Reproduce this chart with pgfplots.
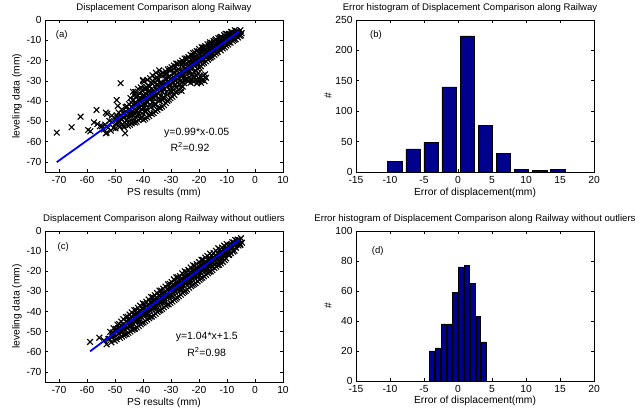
\documentclass[border=0pt]{standalone}
\usepackage{fontspec}
\setmainfont{Liberation Sans}
\usepackage{pgfplots}
\pgfplotsset{compat=1.18}
\definecolor{barblue}{RGB}{0,0,143}
\pgfplotsset{
 base/.style={
  scale only axis, width=238bp, clip mode=individual,
  axis line style={black, line width=0.7bp},
  tick align=inside, major tick length=3bp,
  every tick/.style={black, line width=0.6bp},
  tick label style={font=\fontsize{10.3bp}{12bp}\selectfont},
  xticklabel style={yshift=-1bp},
  label style={font=\fontsize{10.3bp}{12bp}\selectfont},
  title style={font=\fontsize{9.6bp}{11bp}\selectfont, at={(axis description cs:0.5,1)}, anchor=center, yshift=6bp},
  xlabel style={at={(axis description cs:0.5,-0.135)}, anchor=center},
  ylabel style={at={(axis description cs:-0.1176,0.5)}, anchor=center},
 },
 sc/.style={only marks, mark=x, mark size=4bp, line width=1.1bp, black},
 fit/.style={blue, line width=1.8bp},
 hb/.style={ybar, fill=barblue, draw=black, line width=0.6bp},
}
\begin{document}
\begin{tikzpicture}
\useasboundingbox (0,0) rectangle (642bp,413bp);
% (a)
\begin{axis}[base, at={(45bp,241bp)}, anchor=south west, height=152bp,
 xmin=-75, xmax=10, ymin=-75, ymax=0,
 xtick={-70,-60,...,10}, xticklabels={-70,-60,-50,-40,-30,-20,-10,0,10},
 ytick={-70,-60,...,0}, yticklabels={-70,-60,-50,-40,-30,-20,-10,0},
 title={Displacement Comparison along Railway},
 xlabel={PS results (mm)}, ylabel={leveling data (mm)}]
\addplot[sc] coordinates {
(-4.8,-6.5)(-5.2,-5.0)(-5.5,-7.8)(-5.8,-6.1)(-6.1,-8.6)(-6.4,-5.9)(-6.7,-7.4)(-6.9,-9.5)(-5.0,-7.6)(-6.3,-7.0)
(-7.2,-5.0)(-7.4,-9.8)(-7.7,-7.1)(-7.9,-10.4)(-8.2,-6.0)(-8.4,-8.7)(-8.7,-11.2)(-8.9,-7.3)(-9.1,-9.9)(-9.4,-6.8)(-9.6,-12.1)(-9.8,-8.5)(-7.5,-8.3)(-8.5,-5.9)(-9.3,-11.0)
(-10.1,-7.0)(-10.3,-12.6)(-10.6,-9.4)(-10.8,-13.5)(-11.0,-7.5)(-11.3,-11.2)(-11.5,-14.0)(-11.8,-8.6)(-12.0,-10.5)(-12.2,-15.0)(-12.5,-8.9)(-12.7,-12.8)(-12.9,-11.0)(-10.9,-10.2)(-11.7,-12.9)(-12.4,-9.8)(-10.4,-8.3)
(-13.1,-9.0)(-13.3,-15.8)(-13.6,-12.0)(-13.8,-16.5)(-14.0,-9.5)(-14.3,-13.9)(-14.5,-17.2)(-14.8,-10.4)(-15.0,-14.6)(-15.2,-18.0)(-15.5,-11.2)(-15.7,-15.9)(-15.9,-13.0)(-13.9,-12.7)(-14.6,-15.5)(-15.3,-12.2)(-13.4,-11.0)(-15.8,-18.5)
(-16.1,-11.0)(-16.3,-18.9)(-16.6,-14.5)(-16.8,-19.6)(-17.0,-12.0)(-17.3,-16.8)(-17.5,-20.4)(-17.8,-12.9)(-18.0,-17.5)(-18.2,-21.1)(-18.5,-13.6)(-18.7,-18.9)(-18.9,-15.6)(-16.9,-15.8)(-17.6,-18.3)(-18.3,-15.2)(-16.4,-13.2)(-18.8,-21.6)
(-17.5,-28.5)(-18.0,-30.2)(-18.4,-27.3)(-18.9,-29.6)(-19.3,-31.0)(-19.6,-27.9)(-17.8,-26.8)
(-19.1,-13.4)(-19.3,-22.8)(-19.6,-17.0)(-19.8,-23.5)(-20.0,-14.2)(-20.3,-19.8)(-20.5,-24.0)(-20.8,-15.3)(-21.0,-21.3)(-21.2,-25.1)(-21.5,-16.0)(-21.7,-22.0)(-21.9,-18.8)(-19.9,-18.5)(-20.6,-21.9)(-21.3,-18.2)(-19.4,-15.7)(-21.8,-25.6)(-20.2,-26.1)
(-20.0,-28.9)(-20.4,-30.6)(-20.9,-27.6)(-21.4,-29.8)(-21.8,-28.1)(-20.7,-31.3)(-22.0,-30.4)
(-22.1,-16.3)(-22.3,-26.8)(-22.6,-20.0)(-22.8,-27.4)(-23.0,-17.2)(-23.3,-23.1)(-23.5,-28.2)(-23.8,-18.3)(-24.0,-24.6)(-24.2,-29.0)(-24.5,-19.0)(-24.7,-25.5)(-24.9,-21.9)(-22.9,-21.6)(-23.6,-25.8)(-24.3,-21.4)(-22.4,-18.9)(-24.8,-29.6)(-23.2,-29.4)
(-22.5,-29.5)(-23.0,-31.0)(-23.8,-30.2)
(-25.1,-19.0)(-25.3,-31.2)(-25.6,-23.2)(-25.8,-32.9)(-26.0,-20.0)(-26.3,-27.0)(-26.5,-33.5)(-26.8,-21.0)(-27.0,-28.6)(-27.2,-34.6)(-27.5,-21.6)(-27.7,-30.9)(-27.9,-25.1)(-25.9,-25.6)(-26.6,-30.0)(-27.3,-24.4)(-25.4,-28.4)(-27.8,-35.2)(-26.2,-35.0)(-25.7,-21.3)(-27.1,-31.8)
(-28.1,-21.5)(-28.3,-35.6)(-28.6,-26.1)(-28.8,-37.0)(-29.0,-22.4)(-29.3,-30.5)(-29.5,-37.9)(-29.8,-23.3)(-30.0,-32.0)(-30.2,-38.6)(-30.5,-24.0)(-30.7,-34.2)(-30.9,-28.0)(-28.9,-28.5)(-29.6,-34.0)(-30.3,-27.9)(-28.4,-31.9)(-30.8,-39.3)(-29.2,-26.0)(-28.7,-23.6)(-30.1,-35.8)
(-31.1,-24.4)(-31.3,-39.9)(-31.6,-29.1)(-31.8,-41.0)(-32.0,-25.3)(-32.3,-34.0)(-32.5,-42.0)(-32.8,-26.1)(-33.0,-35.5)(-33.2,-42.8)(-33.5,-27.0)(-33.7,-37.6)(-33.9,-31.0)(-31.9,-31.5)(-32.6,-38.0)(-33.3,-31.2)(-31.4,-35.3)(-33.8,-43.4)(-32.2,-29.0)(-31.7,-26.4)(-33.1,-39.6)(-32.9,-33.0)
(-34.1,-27.3)(-34.3,-43.2)(-34.6,-32.1)(-34.8,-44.3)(-35.0,-28.3)(-35.3,-37.2)(-35.5,-45.0)(-35.8,-29.0)(-36.0,-38.5)(-36.2,-45.9)(-36.5,-30.2)(-36.7,-40.6)(-36.9,-34.0)(-34.9,-34.5)(-35.6,-41.2)(-36.3,-34.4)(-34.4,-38.7)(-36.8,-46.4)(-35.2,-32.0)(-34.7,-29.5)(-36.1,-42.5)(-35.9,-36.0)
(-35.4,-26.0)(-36.6,-27.3)(-34.2,-24.8)
(-37.1,-31.0)(-37.3,-46.0)(-37.6,-35.2)(-37.8,-47.4)(-38.0,-32.3)(-38.3,-40.4)(-38.5,-48.0)(-38.8,-33.1)(-39.0,-41.6)(-39.2,-48.7)(-39.5,-34.0)(-39.7,-43.5)(-39.9,-37.2)(-37.9,-37.7)(-38.6,-44.0)(-39.3,-37.6)(-37.4,-41.8)(-39.8,-49.3)(-38.2,-35.5)(-37.7,-33.0)(-39.1,-45.4)
(-38.4,-29.5)(-39.6,-30.4)(-37.5,-28.7)(-40.0,-30.0)
(-40.2,-35.0)(-40.4,-47.8)(-40.7,-38.9)(-40.9,-48.7)(-41.1,-36.3)(-41.4,-43.4)(-41.6,-49.4)(-41.9,-37.0)(-42.1,-44.8)(-42.3,-50.2)(-42.6,-38.0)(-42.8,-46.5)(-43.0,-41.0)(-41.0,-40.6)(-41.7,-46.5)(-42.4,-41.4)(-40.5,-44.0)(-42.9,-50.6)(-41.3,-39.0)
(-41.8,-34.0)(-42.7,-35.5)(-40.8,-33.2)(-43.0,-37.0)
(-43.3,-39.5)(-43.5,-50.2)(-43.8,-43.0)(-44.0,-51.0)(-44.2,-40.6)(-44.5,-47.0)(-44.7,-51.7)(-45.0,-41.5)(-45.2,-48.3)(-45.4,-52.2)(-45.7,-42.7)(-45.9,-49.6)(-44.1,-45.2)(-44.8,-44.3)(-45.5,-46.0)(-43.6,-46.9)
(-46.2,-43.0)(-46.5,-50.4)(-46.9,-45.8)(-47.3,-51.5)(-47.6,-44.1)(-48.0,-48.7)(-48.3,-52.8)(-48.7,-45.6)(-49.0,-50.9)(-49.4,-47.0)(-49.8,-53.5)(-47.0,-48.0)(-48.5,-49.8)(-46.8,-53.0)
(-50.2,-48.3)(-50.6,-53.2)(-51.0,-50.5)(-51.5,-54.6)(-52.0,-49.8)(-52.4,-53.1)(-53.0,-55.6)(-53.5,-51.6)(-54.0,-54.0)(-54.7,-52.4)(-51.2,-47.2)(-52.8,-46.3)
(-70.8,-55.6)(-65.5,-52.9)(-62.3,-47.7)(-56.6,-44.4)(-53.3,-45.7)(-59.6,-54.3)(-58.8,-54.9)(-56.3,-51.3)(-55.4,-52.4)(-53.3,-55.9)(-48.0,-31.2)(-49.4,-39.5)(-46.4,-55.9)(-47.0,-52.3)(-49.0,-42.4)(-43.6,-35.4)(-40.0,-29.6)(-44.5,-38.5)(-57.5,-50.5)
(-6.0,-6.8)(-6.6,-5.4)(-7.0,-8.0)(-7.6,-6.5)(-8.0,-9.1)(-8.6,-7.4)(-9.0,-8.2)(-9.7,-10.6)(-10.2,-9.2)(-10.7,-11.7)(-11.2,-10.0)(-11.6,-12.1)(-12.1,-11.4)(-12.6,-13.6)(-13.0,-12.2)(-13.5,-14.3)(-14.1,-13.0)(-14.4,-15.6)(-14.9,-14.0)(-15.4,-16.6)(-16.0,-15.0)(-16.5,-17.4)(-17.1,-16.0)(-17.4,-18.6)(-18.1,-17.0)(-18.6,-19.9)(-19.0,-18.0)(-19.5,-20.6)(-20.1,-19.2)(-20.5,-21.9)(-21.1,-20.0)(-21.6,-22.7)(-22.0,-21.2)(-22.5,-23.8)(-23.1,-22.0)(-23.4,-24.9)(-24.1,-23.0)(-24.6,-25.8)(-25.0,-24.1)(-25.5,-27.0)(-26.1,-25.0)(-26.4,-28.0)(-27.1,-26.2)(-27.6,-29.1)(-28.0,-27.0)(-28.5,-30.0)(-29.1,-28.2)(-29.4,-31.2)(-30.1,-29.0)(-30.6,-32.1)(-31.0,-30.2)(-31.5,-33.0)(-32.1,-31.0)(-32.4,-34.3)(-33.1,-32.0)(-33.6,-35.0)(-34.0,-33.2)(-34.5,-36.3)(-35.1,-34.0)(-35.7,-37.2)(-36.1,-35.1)(-36.4,-38.4)(-37.0,-36.2)(-37.6,-39.1)(-38.1,-37.0)(-38.7,-40.3)(-39.1,-38.3)(-39.4,-41.4)(-40.0,-39.1)(-40.6,-42.4)(-41.1,-40.1)(-41.6,-43.2)(-42.0,-41.3)(-42.5,-44.3)(-43.1,-42.2)(-43.7,-45.0)(-44.1,-43.0)(-44.6,-46.2)(-45.1,-44.4)(-45.6,-47.2)(-46.0,-45.2)(-46.7,-48.2)(-47.2,-46.1)(-47.7,-49.0)(-48.1,-47.3)(-48.6,-50.5)(-49.2,-48.1)(-49.7,-51.2)
(-25.2,-29.5)(-26.9,-32.0)(-28.2,-33.2)(-29.7,-35.2)(-31.2,-36.8)(-32.7,-38.5)(-34.2,-40.0)(-35.7,-41.8)(-37.2,-43.2)(-38.9,-45.0)(-40.3,-46.0)(-41.9,-47.6)(-43.4,-48.8)(-44.9,-50.0)
(-10.5,-6.8)(-12.3,-8.3)(-14.2,-10.0)(-16.2,-11.9)(-18.1,-13.6)(-20.1,-15.5)(-22.2,-17.6)(-24.2,-19.3)(-26.2,-21.3)(-28.2,-23.0)(-30.2,-25.0)(-32.4,-27.0)(-34.5,-29.3)(-36.6,-31.4)(-38.9,-34.0)
};
\addplot[fit] coordinates {(-70.8,-70.14)(-5.5,-5.5)};
\node[font=\fontsize{9.5bp}{11bp}\selectfont] at (axis cs:-69,-7.4) {(a)};
\node[font=\fontsize{10.5bp}{12bp}\selectfont] at (axis cs:-20.8,-55.9) {y=0.99*x-0.05};
\node[font=\fontsize{10.5bp}{12bp}\selectfont] at (axis cs:-23.2,-62.5) {R\textsuperscript{2}=0.92};
\end{axis}
% (b)
\begin{axis}[base, at={(356bp,241bp)}, anchor=south west, height=152bp,
 xmin=-15, xmax=20, ymin=0, ymax=250,
 xtick={-15,-10,...,20}, xticklabels={-15,-10,-5,0,5,10,15,20},
 ytick={0,50,...,250}, yticklabels={0,50,100,150,200,250},
 title={Error histogram of Displacement Comparison along Railway},
 title style={xshift=-5bp},
 xlabel={Error of displacement(mm)}, ylabel={\#}]
\addplot[hb, bar width=2.15] coordinates {(-9.25,18)(-6.595,38)(-3.94,49)(-1.285,140)(1.37,224)(4.025,77)(6.68,30)(9.335,4)(11.99,2)(14.645,4)};
\node[font=\fontsize{9.5bp}{11bp}\selectfont] at (axis cs:-12.06,225) {(b)};
\end{axis}
% (c)
\begin{axis}[base, at={(45bp,31bp)}, anchor=south west, height=151bp,
 xmin=-75, xmax=10, ymin=-75, ymax=0,
 xtick={-70,-60,...,10}, xticklabels={-70,-60,-50,-40,-30,-20,-10,0,10},
 ytick={-70,-60,...,0}, yticklabels={-70,-60,-50,-40,-30,-20,-10,0},
 title={Displacement Comparison along Railway without outliers},
 xlabel={PS results (mm)}, ylabel={leveling data (mm)}]
\addplot[sc] coordinates {
(-4.6,-5.8)(-5.0,-3.6)(-5.3,-6.4)(-5.6,-4.5)(-5.9,-7.2)(-6.2,-4.3)(-6.5,-6.5)(-6.8,-8.3)(-5.2,-7.0)(-6.0,-5.6)
(-7.1,-4.5)(-7.3,-9.8)(-7.6,-7.0)(-7.8,-10.2)(-8.1,-5.6)(-8.3,-8.5)(-8.6,-11.0)(-8.9,-6.9)(-9.1,-9.6)(-9.4,-12.0)(-9.6,-7.2)(-9.9,-10.3)(-8.0,-8.0)(-9.2,-11.8)(-7.5,-5.8)
(-10.1,-6.5)(-10.3,-13.6)(-10.6,-9.6)(-10.8,-14.5)(-11.0,-7.3)(-11.3,-11.6)(-11.5,-15.3)(-11.8,-8.2)(-12.0,-12.3)(-12.2,-16.1)(-12.5,-9.3)(-12.7,-13.6)(-12.9,-11.0)(-10.9,-11.3)(-11.7,-13.4)(-12.4,-15.0)(-10.4,-9.0)(-12.8,-16.8)
(-13.1,-8.6)(-13.3,-17.0)(-13.6,-12.6)(-13.8,-17.7)(-14.0,-9.8)(-14.3,-14.6)(-14.5,-18.4)(-14.8,-10.9)(-15.0,-15.5)(-15.2,-19.4)(-15.5,-12.0)(-15.7,-16.8)(-15.9,-14.0)(-13.9,-14.0)(-14.6,-16.6)(-15.3,-17.9)(-13.4,-11.1)(-15.8,-20.1)
(-16.1,-11.2)(-16.3,-20.3)(-16.6,-15.6)(-16.8,-21.0)(-17.0,-12.4)(-17.3,-17.6)(-17.5,-21.8)(-17.8,-13.2)(-18.0,-18.8)(-18.2,-22.5)(-18.5,-14.3)(-18.7,-20.0)(-18.9,-17.0)(-16.9,-17.0)(-17.6,-19.6)(-18.3,-16.2)(-16.4,-14.0)(-18.8,-23.2)
(-19.1,-14.3)(-19.3,-23.6)(-19.6,-18.7)(-19.8,-24.3)(-20.0,-15.4)(-20.3,-20.7)(-20.5,-25.0)(-20.8,-16.4)(-21.0,-21.9)(-21.2,-25.9)(-21.5,-17.3)(-21.7,-23.1)(-21.9,-20.0)(-19.9,-20.3)(-20.6,-22.8)(-21.3,-19.1)(-19.4,-17.0)(-21.8,-26.4)
(-22.1,-17.0)(-22.3,-26.8)(-22.6,-21.8)(-22.8,-27.4)(-23.0,-18.1)(-23.3,-23.9)(-23.5,-28.2)(-23.8,-19.3)(-24.0,-25.0)(-24.2,-29.1)(-24.5,-20.4)(-24.7,-26.2)(-24.9,-23.0)(-22.9,-23.2)(-23.6,-26.0)(-24.3,-22.1)(-22.4,-19.7)(-24.8,-29.7)(-23.2,-20.8)
(-25.1,-20.0)(-25.3,-30.2)(-25.6,-25.1)(-25.8,-30.9)(-26.0,-21.0)(-26.3,-27.0)(-26.5,-31.6)(-26.8,-22.4)(-27.0,-28.2)(-27.2,-32.4)(-27.5,-23.0)(-27.7,-29.3)(-27.9,-25.8)(-25.9,-26.5)(-26.6,-29.0)(-27.3,-25.3)(-25.4,-23.0)(-27.8,-33.0)(-26.2,-24.0)
(-28.1,-23.0)(-28.3,-33.6)(-28.6,-28.5)(-28.8,-34.3)(-29.0,-24.0)(-29.3,-30.3)(-29.5,-35.0)(-29.8,-25.3)(-30.0,-31.4)(-30.2,-35.7)(-30.5,-26.2)(-30.7,-32.6)(-30.9,-29.0)(-28.9,-29.5)(-29.6,-32.2)(-30.3,-28.4)(-28.4,-26.0)(-30.8,-36.4)(-29.2,-27.0)
(-31.1,-26.5)(-31.3,-36.5)(-31.6,-31.5)(-31.8,-37.2)(-32.0,-27.6)(-32.3,-33.5)(-32.5,-37.9)(-32.8,-28.6)(-33.0,-34.6)(-33.2,-38.7)(-33.5,-29.6)(-33.7,-35.6)(-33.9,-32.2)(-31.9,-32.3)(-32.6,-35.2)(-33.3,-31.4)(-31.4,-29.0)(-33.8,-39.3)(-32.2,-30.5)
(-34.1,-29.6)(-34.3,-39.6)(-34.6,-34.6)(-34.8,-40.3)(-35.0,-30.8)(-35.3,-36.6)(-35.5,-41.1)(-35.8,-31.9)(-36.0,-37.8)(-36.2,-41.9)(-36.5,-32.9)(-36.7,-38.9)(-36.9,-35.4)(-34.9,-35.4)(-35.6,-38.4)(-36.3,-34.7)(-34.4,-32.2)(-36.8,-42.5)(-35.2,-33.5)
(-37.1,-32.8)(-37.3,-42.6)(-37.6,-37.8)(-37.8,-43.3)(-38.0,-34.0)(-38.3,-39.7)(-38.5,-44.0)(-38.8,-35.1)(-39.0,-40.8)(-39.2,-44.8)(-39.5,-36.2)(-39.7,-41.9)(-39.9,-38.6)(-37.9,-38.5)(-38.6,-41.4)(-39.3,-37.8)(-37.4,-35.4)(-39.8,-45.4)(-38.2,-36.7)
(-40.1,-35.9)(-40.3,-45.7)(-40.6,-41.0)(-40.8,-46.4)(-41.0,-37.1)(-41.3,-42.7)(-41.5,-47.1)(-41.8,-38.2)(-42.0,-43.9)(-42.2,-47.9)(-42.5,-39.3)(-42.7,-45.0)(-42.9,-41.7)(-40.9,-41.6)(-41.6,-44.5)(-42.3,-40.8)(-40.4,-38.6)(-42.8,-48.5)(-41.2,-39.8)
(-43.1,-39.3)(-43.3,-48.6)(-43.6,-44.2)(-43.8,-49.2)(-44.0,-40.4)(-44.3,-45.8)(-44.5,-49.9)(-44.8,-41.5)(-45.0,-46.9)(-45.2,-50.6)(-45.5,-42.6)(-45.7,-48.0)(-45.9,-44.8)(-43.9,-44.7)(-44.6,-47.4)(-45.3,-43.8)(-43.4,-41.6)(-45.8,-51.2)
(-46.1,-42.7)(-46.3,-51.4)(-46.6,-47.1)(-46.8,-51.9)(-47.0,-43.8)(-47.3,-48.8)(-47.5,-52.5)(-47.8,-45.0)(-48.0,-49.9)(-48.2,-53.1)(-48.5,-46.2)(-48.7,-51.0)(-48.9,-48.3)(-46.9,-47.6)(-47.6,-50.3)
(-49.1,-46.5)(-49.4,-53.8)(-49.8,-50.0)(-50.1,-54.5)(-50.5,-48.3)(-50.9,-52.0)(-51.3,-55.3)(-51.7,-50.1)(-52.0,-53.5)(-49.6,-48.6)(-50.7,-50.4)
(-58.9,-55.1)(-55.6,-53.0)(-53.0,-56.3)(-52.4,-53.6)(-54.0,-54.3)
(-6.0,-5.9)(-6.6,-4.9)(-7.0,-6.9)(-7.6,-5.8)(-8.0,-7.9)(-8.6,-6.7)(-9.0,-8.4)(-9.7,-9.9)(-10.2,-8.6)(-10.7,-10.9)(-11.2,-9.7)(-11.6,-11.9)(-12.1,-10.6)(-12.6,-13.0)(-13.0,-11.6)(-13.5,-13.9)(-14.1,-12.6)(-14.4,-15.0)(-14.9,-13.7)(-15.4,-16.0)(-16.0,-14.8)(-16.5,-17.1)(-17.1,-15.8)(-17.4,-18.1)(-18.1,-16.9)(-18.6,-19.3)(-19.0,-17.9)(-19.5,-20.3)(-20.1,-19.0)(-20.5,-21.4)(-21.1,-20.1)(-21.6,-22.5)(-22.0,-21.1)(-22.5,-23.5)(-23.1,-22.2)(-23.4,-24.6)(-24.1,-23.3)(-24.6,-25.6)(-25.0,-24.4)(-25.5,-26.7)(-26.1,-25.5)(-26.4,-27.8)(-27.1,-26.6)(-27.6,-28.8)(-28.0,-27.6)(-28.5,-29.9)(-29.1,-28.7)(-29.4,-30.9)(-30.1,-29.8)(-30.6,-32.0)(-31.0,-30.8)(-31.5,-33.0)(-32.1,-31.9)(-32.4,-34.1)(-33.1,-32.9)(-33.6,-35.1)(-34.0,-34.0)(-34.5,-36.2)(-35.1,-35.1)(-35.7,-37.3)(-36.1,-36.1)(-36.4,-38.3)(-37.0,-37.2)(-37.6,-39.4)(-38.1,-38.2)(-38.7,-40.5)(-39.1,-39.3)(-39.4,-41.5)(-40.0,-40.3)(-40.6,-42.6)(-41.1,-41.4)(-41.6,-43.6)(-42.0,-42.4)(-42.5,-44.7)(-43.1,-43.5)(-43.7,-45.7)(-44.1,-44.6)(-44.6,-46.8)(-45.1,-45.6)(-45.6,-47.8)(-46.0,-46.7)(-46.7,-48.9)(-47.2,-47.8)(-47.7,-49.9)(-48.1,-48.8)(-48.6,-51.0)(-49.2,-49.9)(-49.7,-52.1)(-50.4,-51.0)(-51.0,-52.8)
};
\addplot[fit] coordinates {(-58.9,-59.76)(-5.5,-4.22)};
\node[font=\fontsize{9.5bp}{11bp}\selectfont] at (axis cs:-68.5,-8) {(c)};
\node[font=\fontsize{10.5bp}{12bp}\selectfont] at (axis cs:-17.25,-52.8) {y=1.04*x+1.5};
\node[font=\fontsize{10.5bp}{12bp}\selectfont] at (axis cs:-17.25,-60.2) {R\textsuperscript{2}=0.98};
\end{axis}
% (d)
\begin{axis}[base, at={(356bp,32bp)}, anchor=south west, height=150bp,
 xmin=-15, xmax=20, ymin=0, ymax=100,
 xtick={-15,-10,...,20}, xticklabels={-15,-10,-5,0,5,10,15,20},
 ytick={0,20,...,100}, yticklabels={0,20,40,60,80,100},
 title={Error histogram of Displacement Comparison along Railway without outliers},
 xlabel={Error of displacement(mm)}, ylabel={\#}]
\addplot[hb, bar width=0.72] coordinates {(-3.85,20)(-2.995,22)(-2.14,38)(-1.285,38)(-0.43,59)(0.425,76)(1.28,77)(2.135,65)(2.99,43)(3.845,26)};
\node[font=\fontsize{9.5bp}{11bp}\selectfont] at (axis cs:-11.8,86.6) {(d)};
\end{axis}
\end{tikzpicture}
\end{document}
